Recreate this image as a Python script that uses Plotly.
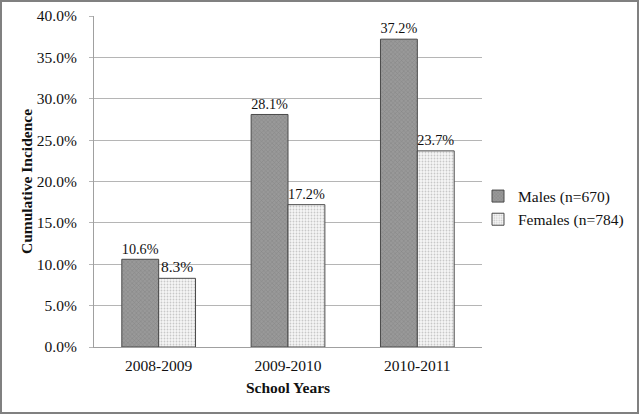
import plotly.graph_objects as go

years = ["2008-2009", "2009-2010", "2010-2011"]
males = [10.6, 28.1, 37.2]
females = [8.3, 17.2, 23.7]
male_name = "Males (n=670)"
female_name = "Females (n=784)"

FONT = "Liberation Serif"
FS = 15.5

fig = go.Figure()
fig.add_trace(go.Bar(
    x=years, y=males, name=male_name,
    marker=dict(color="#8f8f8f", line=dict(color="#4a4a4a", width=1),
                pattern=dict(shape="x", fgcolor="#6e6e6e", bgcolor="#999999", size=3, solidity=0.3)),
    texttemplate="%{y:.1f}%", textposition="outside", cliponaxis=False,
    textfont=dict(family=FONT, size=FS, color="#111"),
))
fig.add_trace(go.Bar(
    x=years, y=females, name=female_name,
    marker=dict(color="#f4f4f4", line=dict(color="#4a4a4a", width=1),
                pattern=dict(shape=".", fgcolor="#999999", bgcolor="#f6f6f6", size=3, solidity=0.3)),
    texttemplate="%{y:.1f}%", textposition="outside", cliponaxis=False,
    textfont=dict(family=FONT, size=FS, color="#111"),
))

W, H = 640, 415
L, R, T, B = 94, 158, 16, 68
pw, ph = W - L - R, H - T - B

fig.update_layout(
    width=W, height=H,
    margin=dict(l=L, r=R, t=T, b=B, autoexpand=False),
    paper_bgcolor="white", plot_bgcolor="white",
    font=dict(family=FONT, size=FS, color="#111"),
    barmode="group", bargap=0.43, bargroupgap=0,
    showlegend=True,
    legend=dict(x=(478 - L) / pw, y=(H - B - 208) / ph, xanchor="left", yanchor="middle",
                font=dict(family=FONT, size=FS), itemwidth=30, tracegroupgap=2,
                bgcolor="rgba(0,0,0,0)"),
    xaxis=dict(title=dict(text="<b>School Years</b>", font=dict(family=FONT, size=FS), standoff=9),
               showline=True, linecolor="#a0a0a0", linewidth=1, ticks="", tickfont=dict(size=FS),
               ticklabelstandoff=4),
    yaxis=dict(title=dict(text="<b>Cumulative Incidence</b>", font=dict(family=FONT, size=FS), standoff=0),
               range=[0, 40], dtick=5, tickformat=".1f", ticksuffix="%",
               showgrid=True, gridcolor="#b5b5b5", gridwidth=1,
               showline=True, linecolor="#a0a0a0", linewidth=1,
               ticks="outside", ticklen=4, tickcolor="#b5b5b5", tickfont=dict(size=FS),
               ticklabelstandoff=9, zeroline=False),
    shapes=[dict(type="rect", xref="paper", yref="paper",
                 x0=(1 - L) / pw, x1=(638 - L) / pw,
                 y0=(H - B - 413) / ph, y1=(H - B - 1) / ph,
                 line=dict(color="#808080", width=2), fillcolor="rgba(0,0,0,0)", layer="below")],
)

fig.write_html("out.html", config={"displayModeBar": False},
               post_script="document.body.style.margin='0';document.body.style.overflow='hidden';")
